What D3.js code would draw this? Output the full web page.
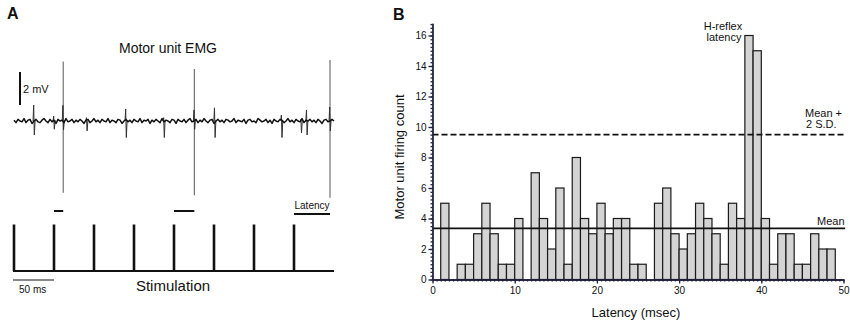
<!DOCTYPE html>
<html><head><meta charset="utf-8">
<script src="https://cdn.jsdelivr.net/npm/d3@7/dist/d3.min.js"></script>
<style>
body{margin:0;background:#fff}
text{font-family:Arial,"Liberation Sans",Helvetica,sans-serif;fill:#111}
</style>
</head><body>
<svg id="c" width="850" height="323"></svg>
<script>
// ---------- DATA ----------
// Panel B: histogram, 1-ms latency bins starting at 0..49 ms
const binStarts = [0,1,2,3,4,5,6,7,8,9,10,11,12,13,14,15,16,17,18,19,20,21,22,23,24,25,26,27,28,29,30,31,32,33,34,35,36,37,38,39,40,41,42,43,44,45,46,47,48,49];
const firingCounts = [0,5,0,1,1,3,5,3,1,1,4,0,7,4,2,6,1,8,4,3,5,3,4,4,1,1,0,5,6,3,2,3,5,4,3,1,5,4,16,15,4,1,3,3,1,1,3,2,2,0];
const meanCount = 3.35;
const thresholdCount = 9.5;   // Mean + 2 S.D.
const xTickValues = [0,10,20,30,40,50];
const yTickValues = [0,2,4,6,8,10,12,14,16];

// Panel A: EMG (times in ms, amplitudes in mV)
const stimTimes = [0,50,100,150,200,250,300,350];
const emgNoise = [0.05,-0.1,0.1,0,-0.05,0.15,-0.1,0.05,0.1,-0.15,
0,0.1,-0.05,-0.1,0.05,0.15,0,-0.1,0.1,-0.05,
0.05,-0.15,0.1,0,0.05,-0.1,0.15,-0.05,0,0.1,
-0.1,0.05,-0.05,0.1,0,-0.15,0.05,0.1,-0.1,0,
0.15,-0.05,0.05,-0.1,0.1,0,-0.05,0.15,-0.1,0.05,
0,-0.1,0.1,0.05,-0.15,0,0.1,-0.05,0.05,-0.1,
0.1,0,-0.05,0.15,-0.1,0.05,0,0.1,-0.15,0.05,
-0.05,0.1,0,-0.1,0.15,-0.05,0.05,0,-0.1,0.1,
0.05,-0.15,0.1,0,-0.05,0.1,-0.1,0.05,0.15,-0.05,
0,0.1,-0.1,0.05,-0.05,0.15,0,-0.1,0.05,0.1,
-0.15,0,0.1,-0.05,0.05,-0.1,0.1,0.05,-0.05,0,
0.15,-0.1,0.05,0,-0.05,0.1,-0.15,0.05,0.1,-0.05,
0,-0.1,0.15,0.05,-0.05,0,0.1,-0.1,0.05,-0.15,
0.1,0,-0.05,0.1,0.05,-0.1,0,0.15,-0.05,0.05,
-0.1,0.1,0,-0.05,0.15,-0.1,0.05,0,0.1,-0.05,
0.05,-0.1,0.1,0,-0.15,0.05,0.1,-0.05,0,0.1,0];
const noiseStep = 2.5;
const smallSpikeTimes = [25,50,61.5,91,140,187.5,225.4,251,334.6,359,366,395];
const smallSpikeUp    = [0.97,0.3,0.95,0.2,0.73,0.2,0.67,0.8,0.36,0.1,0.67,0.85];
const smallSpikeDown  = [0.85,0.5,0.55,0.6,1.0,1.0,0.5,1.0,1.0,0.73,0.85,0.6];
const bigSpikeTimes = [61.5,225.4,395];
const bigSpikeUp    = [3.6,3.15,3.7];
const bigSpikeDown  = [4.35,4.5,4.65];
const latencyMarks  = [[50,61.5],[200,225.4],[350,395]];

// ---------- DRAW ----------
const svg = d3.select('#c');

// ===== Panel B =====
const x = d3.scaleLinear().domain([0,50]).range([432.5,843.5]);
const y = d3.scaleLinear().domain([0,16.8]).range([279.5,23.3]);
const axisColor = '#1e1e3c';

const gB = svg.append('g');
gB.selectAll('rect.bar')
  .data(binStarts.map((b,i)=>({b, c:firingCounts[i]})).filter(d=>d.c>0))
  .join('rect').attr('class','bar')
  .attr('x', d=>x(d.b)).attr('width', d=>x(d.b+1)-x(d.b))
  .attr('y', d=>y(d.c)).attr('height', d=>y(0)-y(d.c))
  .attr('fill','#d4d4d4').attr('stroke','#1a1a1a').attr('stroke-width',1.2);

gB.append('line').attr('x1',x(0)).attr('x2',x(50.2)).attr('y1',y(meanCount)).attr('y2',y(meanCount))
  .attr('stroke','#111').attr('stroke-width',1.8);
gB.append('line').attr('x1',x(0)).attr('x2',x(50.2)).attr('y1',y(thresholdCount)).attr('y2',y(thresholdCount))
  .attr('stroke','#111').attr('stroke-width',1.8).attr('stroke-dasharray','6,3');

const xMinor = gB.append('g').attr('transform',`translate(0,${y(0)})`)
  .call(d3.axisBottom(x).tickValues(d3.range(0,50.01,0.5)).tickSize(2).tickFormat('').tickSizeOuter(0));
const xMajor = gB.append('g').attr('transform',`translate(0,${y(0)})`)
  .call(d3.axisBottom(x).tickValues(xTickValues).tickSize(4).tickPadding(3).tickSizeOuter(0));
const yMinor = gB.append('g').attr('transform',`translate(${x(0)},0)`)
  .call(d3.axisLeft(y).tickValues(d3.range(0,16.81,0.25)).tickSize(2).tickFormat('').tickSizeOuter(0));
const yMajor = gB.append('g').attr('transform',`translate(${x(0)},0)`)
  .call(d3.axisLeft(y).tickValues(yTickValues).tickSize(4).tickPadding(2).tickSizeOuter(0));
[xMinor,xMajor,yMinor,yMajor].forEach(g=>{
  g.selectAll('path,line').attr('stroke',axisColor).attr('stroke-width',1.3);
  g.selectAll('text').attr('font-size',10).attr('font-family','Arial,"Liberation Sans",sans-serif').attr('fill','#111');
});

gB.append('text').attr('x',393).attr('y',20).attr('font-size',16).attr('font-weight','bold').text('B');
gB.append('text').attr('transform','translate(404,157) rotate(-90)').attr('text-anchor','middle')
  .attr('font-size',13).text('Motor unit firing count');
gB.append('text').attr('x',636).attr('y',317).attr('text-anchor','middle').attr('font-size',13).text('Latency (msec)');
gB.append('text').attr('x',723).attr('y',30).attr('text-anchor','middle').attr('font-size',11).text('H-reflex');
gB.append('text').attr('x',724).attr('y',41).attr('text-anchor','middle').attr('font-size',11).text('latency');
gB.append('text').attr('x',805).attr('y',117).attr('font-size',11).text('Mean +');
gB.append('text').attr('x',806).attr('y',128).attr('font-size',11).text('2 S.D.');
gB.append('text').attr('x',817).attr('y',225).attr('font-size',11).text('Mean');

// ===== Panel A =====
const t = d3.scaleLinear().domain([0,400]).range([14,334]);
const mv = d3.scaleLinear().domain([0,1]).range([121,104.5]);
const gA = svg.append('g');

gA.append('text').attr('x',7).attr('y',19).attr('font-size',16).attr('font-weight','bold').text('A');
gA.append('text').attr('x',168).attr('y',53).attr('text-anchor','middle').attr('font-size',14).text('Motor unit EMG');

gA.append('line').attr('x1',20).attr('x2',20).attr('y1',mv(0)-16).attr('y2',mv(0)-16-(mv(0)-mv(2)))
  .attr('stroke','#111').attr('stroke-width',2);
gA.append('text').attr('x',23).attr('y',93).attr('font-size',11).text('2 mV');

// big spikes (fast, thin)
gA.selectAll('line.big').data(bigSpikeTimes.map((s,i)=>({s,u:bigSpikeUp[i],d:bigSpikeDown[i]})))
  .join('line').attr('class','big')
  .attr('x1',d=>t(d.s)).attr('x2',d=>t(d.s)).attr('y1',d=>mv(d.u)).attr('y2',d=>mv(-d.d))
  .attr('stroke','#555').attr('stroke-width',1);
// small spikes (thin biphasic deflections)
gA.selectAll('path.sp').data(smallSpikeTimes.map((s,i)=>({s,u:smallSpikeUp[i],d:smallSpikeDown[i]})))
  .join('path').attr('class','sp')
  .attr('d', d=>d3.line()([[t(d.s-1.2),mv(0)],[t(d.s-0.4),mv(d.u)],[t(d.s+0.4),mv(-d.d)],[t(d.s+1.4),mv(0.05)]]))
  .attr('fill','none').attr('stroke','#333').attr('stroke-width',1);
// baseline noise
gA.append('path').datum(emgNoise.map((v,i)=>({t:i*noiseStep, v})))
  .attr('d', d3.line().x(d=>t(d.t)).y(d=>mv(d.v)))
  .attr('fill','none').attr('stroke','#111').attr('stroke-width',1.5).attr('stroke-linejoin','round');

gA.selectAll('line.lat').data(latencyMarks).join('line').attr('class','lat')
  .attr('x1',d=>t(d[0])).attr('x2',d=>t(d[1]))
  .attr('y1',(d,i)=>i===2?214:211).attr('y2',(d,i)=>i===2?214:211)
  .attr('stroke','#111').attr('stroke-width',2);
gA.append('text').attr('x',312).attr('y',209).attr('text-anchor','middle').attr('font-size',10).text('Latency');

const stimBase = 271, stimTop = 224.5;
gA.append('line').attr('x1',t(0)-1).attr('x2',t(400)).attr('y1',stimBase).attr('y2',stimBase)
  .attr('stroke','#111').attr('stroke-width',2);
gA.selectAll('line.stim').data(stimTimes).join('line').attr('class','stim')
  .attr('x1',d=>t(d)).attr('x2',d=>t(d)).attr('y1',stimBase).attr('y2',stimTop)
  .attr('stroke','#111').attr('stroke-width',2.6);
gA.append('line').attr('x1',t(0)-1).attr('x2',t(50)).attr('y1',280).attr('y2',280)
  .attr('stroke','#111').attr('stroke-width',1.2);
gA.append('text').attr('x',19).attr('y',293).attr('font-size',10).text('50 ms');
gA.append('text').attr('x',173).attr('y',291).attr('text-anchor','middle').attr('font-size',15).text('Stimulation');
</script>
</body></html>
